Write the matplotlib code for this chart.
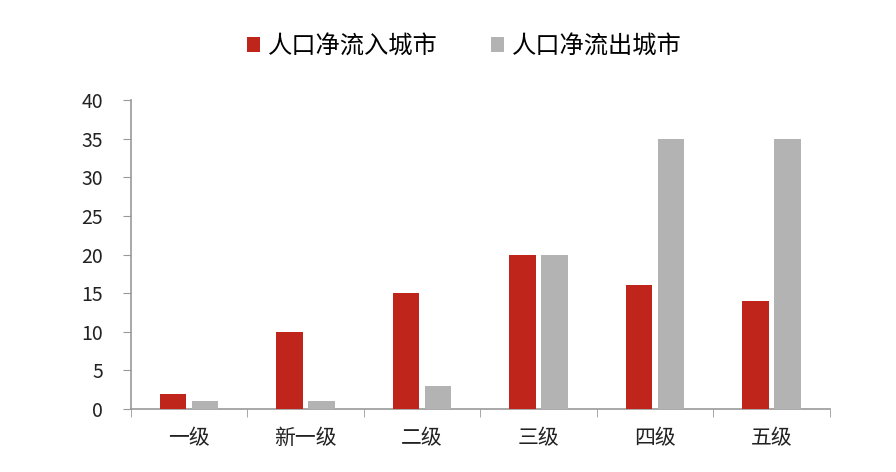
import matplotlib
matplotlib.use("Agg")
import matplotlib.pyplot as plt
import numpy as np

plt.rcParams['font.family'] = ['Noto Sans CJK SC', 'DejaVu Sans']

categories = ['一级', '新一级', '二级', '三级', '四级', '五级']
inflow = [2, 10, 15, 20, 16, 14]
outflow = [1, 1, 3, 20, 35, 35]
series_names = ['人口净流入城市', '人口净流出城市']
yticks = [0, 5, 10, 15, 20, 25, 30, 35, 40]

fig = plt.figure(figsize=(8.96, 4.72), dpi=100)
ax = fig.add_axes([0.146, 0.1335, 0.78, 0.6545])

x = np.arange(len(categories))
w = 0.225
gap = 0.05
ax.bar(x - (w + gap) / 2, inflow, width=w, color='#C0251C', label=series_names[0], zorder=3)
ax.bar(x + (w + gap) / 2, outflow, width=w, color='#B3B3B3', label=series_names[1], zorder=3)

ax.set_xlim(-0.5, len(categories) - 0.5)
ax.set_ylim(0, 40)
ax.set_yticks(yticks)
ax.set_yticklabels([str(v) for v in yticks], fontsize=14, color='#222222')
ax.set_xticks(x)
ax.set_xticklabels(categories, fontsize=15, color='#222222')
ax.set_xticks(np.arange(-0.5, len(categories)), minor=True)
ax.tick_params(axis='x', which='major', length=0, pad=13)
ax.tick_params(axis='x', which='minor', length=6, color='#999999', direction='out')
ax.tick_params(axis='y', length=6, color='#999999', direction='out', pad=14)

for s in ['top', 'right']:
    ax.spines[s].set_visible(False)
for s in ['left', 'bottom']:
    ax.spines[s].set_color('#999999')
    ax.spines[s].set_linewidth(1.2)

fig.legend(loc='center', bbox_to_anchor=(0.518, 0.902), ncol=2, frameon=False,
           fontsize=17.5, handlelength=0.55, handleheight=0.55, handletextpad=0.3,
           columnspacing=2.2)

fig.savefig('out.png', dpi=100)
